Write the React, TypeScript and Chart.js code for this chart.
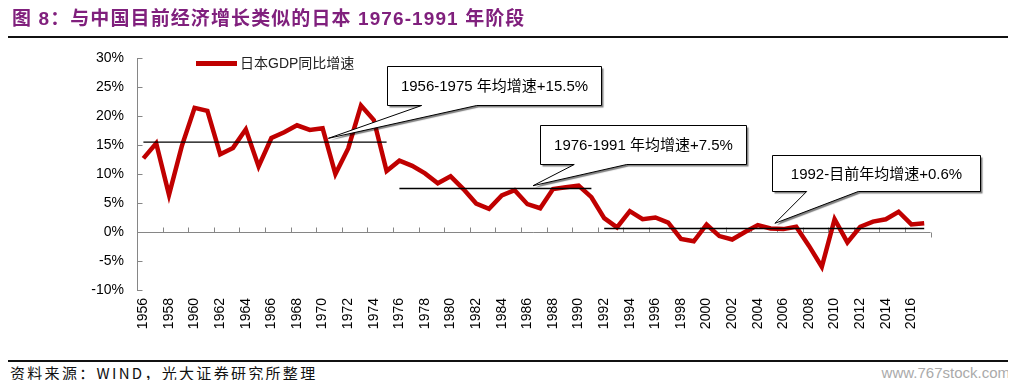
import React, { useEffect, useRef } from 'react';
import { Chart, registerables } from 'chart.js';

Chart.register(...registerables);

// ---------- data ----------
const years = [
  '1956', '1957', '1958', '1959', '1960', '1961', '1962', '1963', '1964', '1965',
  '1966', '1967', '1968', '1969', '1970', '1971', '1972', '1973', '1974', '1975',
  '1976', '1977', '1978', '1979', '1980', '1981', '1982', '1983', '1984', '1985',
  '1986', '1987', '1988', '1989', '1990', '1991', '1992', '1993', '1994', '1995',
  '1996', '1997', '1998', '1999', '2000', '2001', '2002', '2003', '2004', '2005',
  '2006', '2007', '2008', '2009', '2010', '2011', '2012', '2013', '2014', '2015',
  '2016', '2017',
];

const gdpGrowth = [
  12.7, 15.3, 6.4, 14.8, 21.4, 20.9, 13.4, 14.5, 17.7, 11.3,
  16.2, 17.2, 18.4, 17.6, 17.9, 10.0, 14.4, 21.8, 19.3, 10.5,
  12.3, 11.4, 10.1, 8.4, 9.6, 7.4, 4.9, 4.0, 6.3, 7.2,
  4.8, 4.1, 7.4, 7.7, 8.0, 6.0, 2.4, 0.8, 3.6, 2.2,
  2.5, 1.6, -1.2, -1.6, 1.3, -0.7, -1.3, 0.0, 1.2, 0.6,
  0.5, 0.9, -2.4, -6.0, 2.2, -1.8, 0.9, 1.8, 2.2, 3.5,
  1.3, 1.5,
];

const seriesName = '日本GDP同比增速';

const periodStart = ['1956', '1976', '1992'];
const periodEnd = ['1975', '1991', '2017'];
const periodAverage = [15.5, 7.5, 0.6];
const periodLabels = [
  '1956-1975 年均增速+15.5%',
  '1976-1991 年均增速+7.5%',
  '1992-目前年均增速+0.6%',
];

const yMin = -10;
const yMax = 30;
const yStep = 5;

const titleText = '图 8：与中国目前经济增长类似的日本 1976-1991 年阶段';
const sourceText = '资料来源：WIND，光大证券研究所整理';
const watermarkText = 'www.767stock.com';

// callout geometry, in chart value space (category index / percent)
const calloutLayout = [
  { x0: 19.0, x1: 35.75, top: 28.6, bottom: 21.9, base0: 21.74, base1: 26.04, tipX: 14.45, tipY: 16.15 },
  { x0: 30.98, x1: 47.05, top: 18.45, bottom: 11.72, base0: 33.66, base1: 37.76, tipX: 30.44, tipY: 7.98 },
  { x0: 49.13, x1: 65.36, top: 13.28, bottom: 7.12, base0: 51.82, base1: 55.85, tipX: 49.34, tipY: 1.5 },
];

const RED = '#C00000';
const AXIS = '#868686';
const FONT = '"Liberation Sans", Arial, "Noto Sans CJK SC", sans-serif';

const decorPlugin = {
  id: 'decor',
  beforeDatasetsDraw(chart: any) {
    const { ctx, chartArea, scales } = chart;
    const x = scales.x;
    const y = scales.y;
    const seg = (x1: number, y1: number, x2: number, y2: number) => {
      ctx.beginPath();
      ctx.moveTo(x1, y1);
      ctx.lineTo(x2, y2);
      ctx.stroke();
    };
    ctx.save();
    ctx.strokeStyle = AXIS;
    ctx.lineWidth = 1;
    const ax = Math.round(chartArea.left) + 0.5;
    seg(ax, Math.round(y.getPixelForValue(yMax)), ax, Math.round(y.getPixelForValue(yMin)) + 1);
    for (let v = yMin; v <= yMax; v += yStep) {
      const py = Math.round(y.getPixelForValue(v)) + 0.5;
      seg(ax, py, ax + 5, py);
    }
    const py0 = Math.round(y.getPixelForValue(0)) + 0.5;
    const half = (x.getPixelForValue(1) - x.getPixelForValue(0)) / 2;
    const xl = x.getPixelForValue(0) - half;
    const xr = x.getPixelForValue(years.length - 1) + half;
    seg(xl, py0, xr, py0);
    for (let k = 0; k <= years.length; k += 2) {
      const px = Math.round(xl + k * 2 * half) + 0.5;
      if (k === years.length) seg(px, py0, px, py0 + 5);
      else seg(px, py0 - 5, px, py0);
    }
    ctx.restore();
  },
  afterDatasetsDraw(chart: any) {
    const { ctx, chartArea, scales } = chart;
    const x = scales.x;
    const y = scales.y;
    ctx.save();
    calloutLayout.forEach((c, i) => {
      const L = Math.round(x.getPixelForValue(c.x0)) + 0.5;
      const R = Math.round(x.getPixelForValue(c.x1)) + 0.5;
      const T = Math.round(y.getPixelForValue(c.top)) + 0.5;
      const B = Math.round(y.getPixelForValue(c.bottom)) + 0.5;
      const b0 = x.getPixelForValue(c.base0);
      const b1 = x.getPixelForValue(c.base1);
      const tx = x.getPixelForValue(c.tipX);
      const ty = y.getPixelForValue(c.tipY);
      ctx.beginPath();
      ctx.moveTo(L, T);
      ctx.lineTo(R, T);
      ctx.lineTo(R, B);
      ctx.lineTo(b1, B);
      ctx.lineTo(tx, ty);
      ctx.lineTo(b0, B);
      ctx.lineTo(L, B);
      ctx.closePath();
      ctx.save();
      ctx.shadowColor = 'rgba(0,0,0,0.5)';
      ctx.shadowOffsetX = 2;
      ctx.shadowOffsetY = 2;
      ctx.shadowBlur = 1;
      ctx.fillStyle = '#ffffff';
      ctx.fill();
      ctx.restore();
      ctx.strokeStyle = '#000000';
      ctx.lineWidth = 1;
      ctx.stroke();
      ctx.fillStyle = '#000000';
      ctx.font = '15px ' + FONT;
      ctx.textAlign = 'center';
      ctx.textBaseline = 'middle';
      ctx.fillText(periodLabels[i], (L + R) / 2, (T + B) / 2 + 1);
    });
    // legend
    const lx = chartArea.left + 59;
    const ly = chartArea.top + 5.5;
    ctx.strokeStyle = RED;
    ctx.lineWidth = 5;
    ctx.beginPath();
    ctx.moveTo(lx, ly);
    ctx.lineTo(lx + 41, ly);
    ctx.stroke();
    ctx.fillStyle = '#222222';
    ctx.font = '14px ' + FONT;
    ctx.textAlign = 'left';
    ctx.textBaseline = 'middle';
    ctx.fillText(seriesName, lx + 44, ly + 1);
    ctx.restore();
  },
};

export default function App() {
  const canvasRef = useRef<HTMLCanvasElement | null>(null);

  useEffect(() => {
    if (!canvasRef.current) return;
    const avgSets = periodAverage.map((avg, p) => {
      const s = years.indexOf(periodStart[p]);
      const e = years.indexOf(periodEnd[p]);
      return {
        label: periodLabels[p],
        data: years.map((_, i) => (i >= s && i <= e ? avg : null)),
        borderColor: '#000000',
        borderWidth: 1.3,
        pointRadius: 0,
        fill: false,
        tension: 0,
        spanGaps: false,
      };
    });
    const chart = new Chart(canvasRef.current, {
      type: 'line',
      data: {
        labels: years,
        datasets: [
          ...avgSets,
          {
            label: seriesName,
            data: gdpGrowth,
            borderColor: RED,
            backgroundColor: RED,
            borderWidth: 4.5,
            pointRadius: 0,
            fill: false,
            tension: 0,
          },
        ],
      },
      options: {
        responsive: false,
        animation: false,
        layout: { padding: { left: 0, right: 77.4, top: 50, bottom: 8 } },
        plugins: {
          legend: { display: false },
          tooltip: { enabled: false },
          title: { display: false },
        },
        scales: {
          x: {
            type: 'category',
            offset: true,
            grid: { display: false, drawTicks: false },
            border: { display: false },
            ticks: {
              autoSkip: false,
              minRotation: 90,
              maxRotation: 90,
              padding: 8,
              color: '#000000',
              font: { family: FONT, size: 14 },
              callback: (_v: any, idx: number) => (idx % 2 === 0 ? years[idx] : ''),
            },
            afterFit: (s: any) => {
              s.height = 50;
            },
          },
          y: {
            min: yMin,
            max: yMax,
            grid: { display: false, drawTicks: false },
            border: { display: false },
            ticks: {
              stepSize: yStep,
              padding: 13,
              color: '#000000',
              font: { family: FONT, size: 14 },
              callback: (v: any) => v + '%',
            },
            afterFit: (s: any) => {
              s.width = 129;
            },
          },
        },
      },
      plugins: [decorPlugin],
    });
    return () => chart.destroy();
  }, []);

  return (
    <div style={{ position: 'relative', width: 1000, height: 372, overflow: 'hidden' }}>
      <canvas ref={canvasRef} width={1000} height={340} style={{ position: 'absolute', left: 0, top: 0 }} />
      <div
        style={{
          position: 'absolute',
          left: 4,
          top: -1,
          fontSize: 19,
          lineHeight: '24px',
          fontWeight: 'bold',
          color: '#80207D',
          fontFamily: FONT,
          letterSpacing: '1.1px',
          whiteSpace: 'nowrap',
        }}
      >
        {titleText}
      </div>
      <div style={{ position: 'absolute', left: 0, top: 28, width: 1000, height: 2, background: '#111' }} />
      <div style={{ position: 'absolute', left: 0, top: 352, width: 1000, height: 2, background: '#111' }} />
      <div
        style={{
          position: 'absolute',
          left: 2,
          top: 357,
          fontSize: 15,
          lineHeight: '15px',
          color: '#111',
          fontFamily: '"Noto Sans CJK SC", sans-serif',
          letterSpacing: '2.3px',
          whiteSpace: 'nowrap',
        }}
      >
        {sourceText}
      </div>
      <div
        style={{
          position: 'absolute',
          right: -2,
          top: 357,
          fontSize: 15,
          lineHeight: '15px',
          color: '#AAAAAA',
          fontFamily: '"Liberation Sans Narrow", "Liberation Sans", sans-serif',
          whiteSpace: 'nowrap',
        }}
      >
        {watermarkText}
      </div>
    </div>
  );
}
